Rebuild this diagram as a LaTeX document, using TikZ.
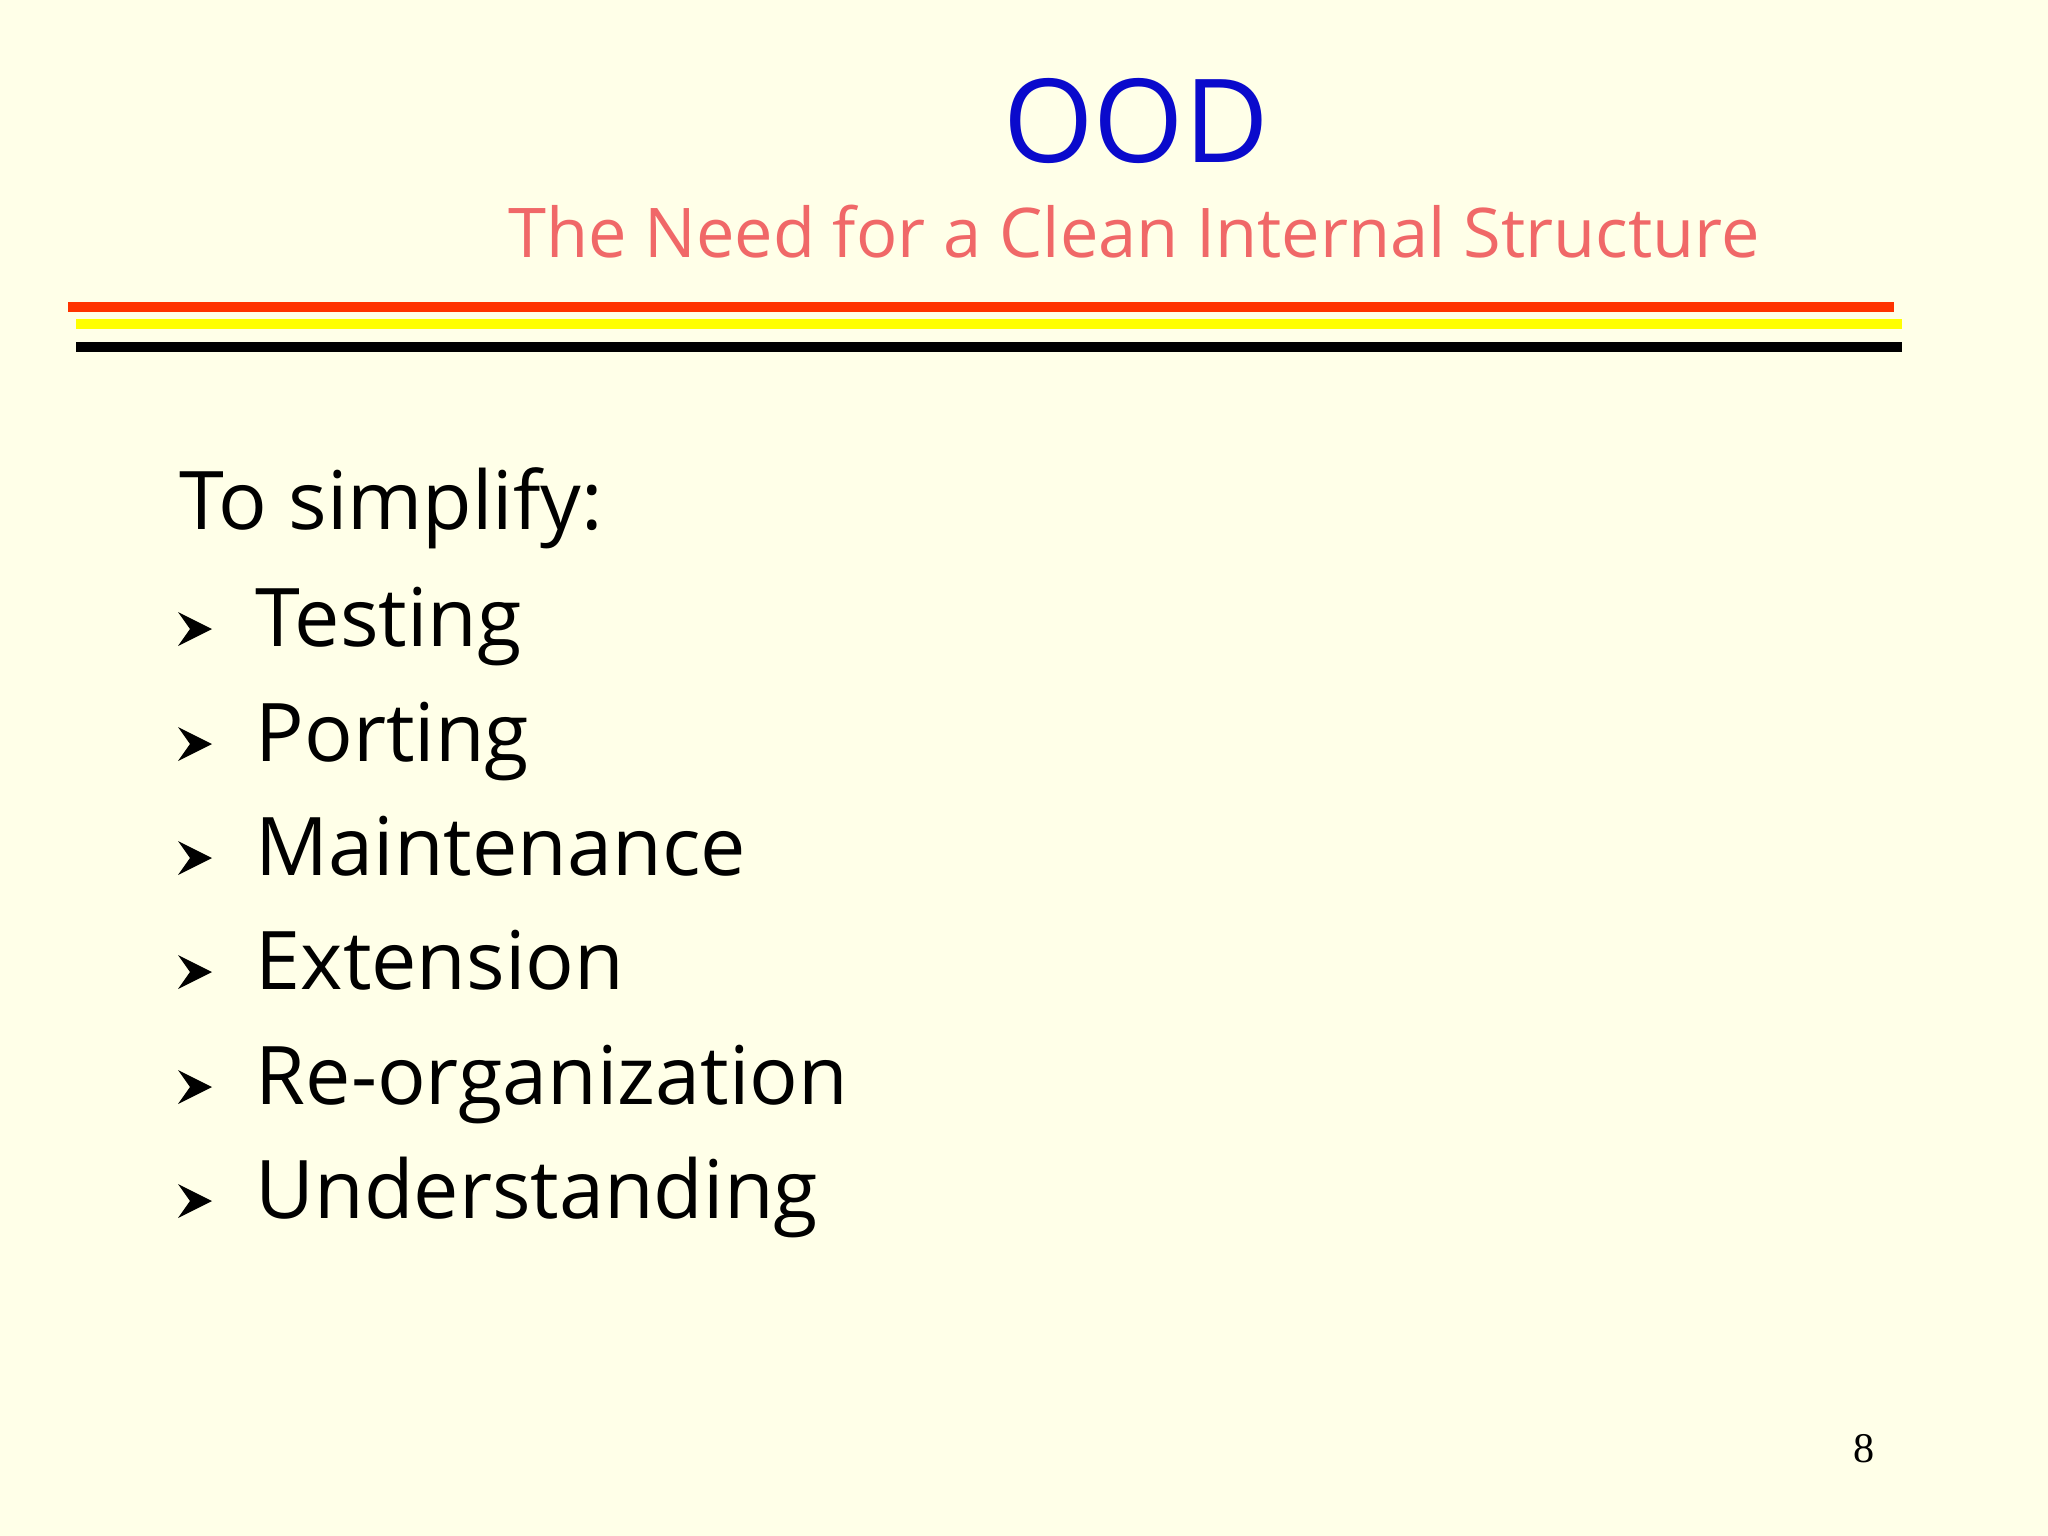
\documentclass[tikz,border=0pt]{standalone}
\usepackage{fontspec}
\setmainfont{Liberation Serif}
\newfontfamily\comic{Open Sans}
\definecolor{bg}{HTML}{FFFFE8}
\definecolor{ttl}{HTML}{0A0ACC}
\definecolor{sub}{HTML}{F06868}
\definecolor{rl}{HTML}{FF3300}
\definecolor{yl}{HTML}{FFFF00}
\tikzset{item/.style={anchor=base west,inner sep=0pt,font=\comic\fontsize{23}{28}\selectfont},
 bul/.style={fill=black}}
\begin{document}
\begin{tikzpicture}[x=0.01cm,y=-0.01cm]
\fill[bg] (0,0) rectangle (2048,1536);
\useasboundingbox (0,0) rectangle (2048,1536);
\node[font=\comic\fontsize{33}{40}\selectfont,text=ttl,inner sep=0pt] (t) at (1136,121) {OOD};
\node[font=\comic\fontsize{19.5}{24}\selectfont,text=sub,inner sep=0pt] (s) at (1134,232) {The Need for a Clean Internal Structure};
\draw[rl,line width=2.6pt] (68,307) -- (1894,307);
\draw[yl,line width=3pt] (76,324) -- (1902,324);
\draw[black,line width=2.6pt] (76,347) -- (1902,347);
\node[item] (h) at (179,529) {To simplify:};
\foreach \y/\t [count=\i] in {646/Testing,761/Porting,875/Maintenance,989/Extension,1104/Re-organization,1218/Understanding}{
  \node[item] (i\i) at (255,\y) {\t};
  \fill[bul] (178,\y-34) -- (212,\y-17) -- (178,\y) -- (190,\y-17) -- cycle;
}
\node[anchor=base,font=\fontsize{12}{14}\selectfont,inner sep=0pt] (p) at (1864,1462) {8};
\end{tikzpicture}
\end{document}
